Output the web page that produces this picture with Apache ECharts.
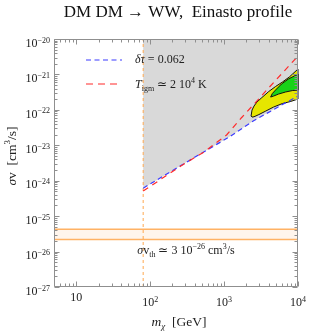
<!DOCTYPE html>
<html><head><meta charset="utf-8">
<script src="https://cdn.jsdelivr.net/npm/echarts@6/dist/echarts.min.js"></script>
<style>html,body{margin:0;padding:0;background:#fff}#c{width:309px;height:332px}</style>
</head><body><div id="c"></div>
<script>
// ---- data ----
const xRange = [5, 10000];                 // GeV
const yRange = [1e-27, 1e-20];             // cm^3/s
const xTickValues = [10, 100, 1000, 10000];
const xTickExps = ['', '2', '3', '4'];
const yTickValues = [1e-27, 1e-26, 1e-25, 1e-24, 1e-23, 1e-22, 1e-21, 1e-20];
const yTickExps = ['\u221227', '\u221226', '\u221225', '\u221224', '\u221223', '\u221222', '\u221221', '\u221220'];

const mW = 80.4;
const bandLow = 2.2e-26, bandHigh = 4.3e-26;

// delta tau = 0.062 (blue)
const blueMass  = [80.4, 212, 473, 1183, 2541, 6152, 10000];
const blueSigma = [6.17e-25, 2.07e-24, 5.64e-24, 1.73e-23, 5.0e-23, 1.41e-22, 2.45e-22];
// T_igm ~ 2e4 K (red)
const redMass  = [80.4, 257, 535, 1080, 1706, 2958, 4009, 6152, 10000];
const redSigma = [5.1e-25, 2.57e-24, 6.46e-24, 1.95e-23, 5.9e-23, 2.04e-22, 4.17e-22, 1.1e-21, 3.3e-21];

// yellow (outer) region contour
const yellowMass  = [2317, 2388, 2541, 2780, 3243, 4018, 4966, 6152, 7621, 10000, 10000, 7852, 6152, 4677, 3664, 2958, 2541, 2388];
const yellowSigma = [6.68e-23, 9.86e-23, 1.28e-22, 1.66e-22, 2.22e-22, 3.29e-22, 4.55e-22, 6.1e-22, 8.45e-22, 1.42e-21, 2.02e-22, 1.71e-22, 1.51e-22, 1.2e-22, 9.25e-23, 7.36e-23, 6.38e-23, 6.26e-23];
// green (inner) region contour
const greenMass  = [4266, 4500, 4966, 5970, 7396, 9162, 10000, 10000, 8356, 6745, 5445, 4677];
const greenSigma = [2.3e-22, 2.9e-22, 3.62e-22, 5.36e-22, 7.41e-22, 9.3e-22, 1.03e-21, 3.62e-22, 3.5e-22, 3.18e-22, 2.79e-22, 2.45e-22];

// ---- chart ----
// the y axis is plotted in units of 1e-26 cm^3/s (ECharts' log scale cannot handle 1e-27 directly)
const Y_UNIT = 1e-26;
const Y_EXP = -26;
const yU = v => v / Y_UNIT;

const SERIF = 'Liberation Serif';
const TXT = '#222';
const chart = echarts.init(document.getElementById('c'), null, {renderer: 'canvas'});

const rich = {
  b: {fontFamily: SERIF, fontSize: 12, color: TXT, lineHeight: 14, verticalAlign: 'middle'},
  c: {fontFamily: SERIF, fontSize: 12, color: TXT, lineHeight: 4, verticalAlign: 'middle'},
  s: {fontFamily: SERIF, fontSize: 8, color: TXT, lineHeight: 8, verticalAlign: 'top'}
};

function zip(a, b) { return a.map((v, i) => [v, yU(b[i])]); }

function polySeries(xs, ys, style, z) {
  return {
    type: 'custom', coordinateSystem: 'cartesian2d', z: z, silent: true,
    data: [[xs[0], yU(ys[0])]],
    renderItem: function (p, api) {
      return {type: 'polygon', shape: {points: xs.map((x, i) => api.coord([x, yU(ys[i])]))}, style: style};
    }
  };
}

const grayMass = [mW, xRange[1]].concat(blueMass.slice().reverse());
const graySigma = [yRange[1], yRange[1]].concat(blueSigma.slice().reverse());

function logTicks(lo, hi) {
  const out = [];
  for (let e = Math.floor(Math.log10(lo) + 1e-9); e <= Math.ceil(Math.log10(hi) - 1e-9); e++) {
    for (let m = 1; m <= 9; m++) {
      const v = m * Math.pow(10, e);
      if (v >= lo * 0.9999 && v <= hi * 1.0001) out.push([v, m === 1]);
    }
  }
  return out;
}
const xTicks = logTicks(xRange[0], xRange[1]);
const yTicks = logTicks(yU(yRange[0]), yU(yRange[1]));

const frameSeries = {
  type: 'custom', coordinateSystem: 'cartesian2d', z: 20, silent: true,
  data: [[xRange[0], yU(yRange[0])]],
  renderItem: function (p, api) {
    const tl = api.coord([xRange[0], yU(yRange[1])]);
    const br = api.coord([xRange[1], yU(yRange[0])]);
    const col = '#8f8f8f';
    const L0 = Math.round(tl[0]) + 0.5, R0 = Math.round(br[0]) - 0.5;
    const T0 = Math.round(tl[1]) + 0.5, B0 = Math.round(br[1]) - 0.5;
    const children = [{
      type: 'rect', shape: {x: L0, y: T0, width: R0 - L0, height: B0 - T0},
      style: {fill: null, stroke: col, lineWidth: 1}
    }];
    xTicks.forEach(([v, major]) => {
      const x = Math.round(api.coord([v, yU(yRange[0])])[0]) + 0.5;
      const L = major ? 5 : 3;
      children.push({type: 'line', shape: {x1: x, y1: B0, x2: x, y2: B0 - L}, style: {stroke: col, lineWidth: 1}});
      children.push({type: 'line', shape: {x1: x, y1: T0, x2: x, y2: T0 + L}, style: {stroke: col, lineWidth: 1}});
    });
    yTicks.forEach(([v, major]) => {
      const y = Math.round(api.coord([xRange[0], v])[1]) + 0.5;
      const L = major ? 5 : 3;
      children.push({type: 'line', shape: {x1: L0, y1: y, x2: L0 + L, y2: y}, style: {stroke: col, lineWidth: 1}});
      children.push({type: 'line', shape: {x1: R0, y1: y, x2: R0 - L, y2: y}, style: {stroke: col, lineWidth: 1}});
    });
    return {type: 'group', children: children};
  }
};

const richText = {
  i: {fontFamily: SERIF, fontStyle: 'italic', fontSize: 12, fill: TXT, lineHeight: 16, verticalAlign: 'middle'},
  n: {fontFamily: SERIF, fontSize: 12, fill: TXT, lineHeight: 16, verticalAlign: 'middle'},
  sub: {fontFamily: SERIF, fontSize: 8, fill: TXT, lineHeight: 8, verticalAlign: 'bottom'},
  subi: {fontFamily: SERIF, fontStyle: 'italic', fontSize: 8, fill: TXT, lineHeight: 8, verticalAlign: 'bottom'},
  sup: {fontFamily: SERIF, fontSize: 8, fill: TXT, lineHeight: 8, verticalAlign: 'top'}
};
const richName = {
  i: {fontFamily: SERIF, fontStyle: 'italic', fontSize: 13.5, fill: TXT, lineHeight: 18, verticalAlign: 'middle'},
  n: {fontFamily: SERIF, fontSize: 13.5, fill: TXT, lineHeight: 18, verticalAlign: 'middle'},
  subi: {fontFamily: SERIF, fontStyle: 'italic', fontSize: 9, fill: TXT, lineHeight: 9, verticalAlign: 'bottom'},
  sup: {fontFamily: SERIF, fontSize: 9, fill: TXT, lineHeight: 9, verticalAlign: 'top'}
};

const option = {
  animation: false,
  backgroundColor: '#fff',
  grid: {left: 54, top: 39, right: 6, bottom: 45},
  xAxis: {
    type: 'log', logBase: 10, min: xRange[0], max: xRange[1],
    axisLine: {show: false}, axisTick: {show: false}, splitLine: {show: false},
    axisLabel: {
      margin: 9, rich: rich, showMinLabel: true, showMaxLabel: true, hideOverlap: false,
      formatter: function (v) {
        const i = xTickValues.findIndex(t => Math.abs(Math.log10(t) - Math.log10(v)) < 1e-6);
        if (i < 0) return '';
        return xTickExps[i] ? '{b|10}{s|' + xTickExps[i] + '}' : '{c|10}';
      }
    }
  },
  yAxis: {
    type: 'log', logBase: 10, min: yU(yRange[0]), max: yU(yRange[1]),
    axisLine: {show: false}, axisTick: {show: false}, splitLine: {show: false},
    axisLabel: {
      margin: 4, rich: rich, padding: [9, 0, 0, 0], showMinLabel: true, showMaxLabel: true, hideOverlap: false,
      formatter: function (v) {
        const e = Math.round(Math.log10(v)) + Y_EXP;
        const i = yTickValues.findIndex(t => Math.round(Math.log10(t)) === e);
        if (i < 0) return '';
        return '{b|10}{s|' + yTickExps[i] + '}';
      }
    }
  },
  series: [
    polySeries(grayMass, graySigma, {fill: '#d9d9d9'}, 1),
    polySeries([xRange[0], xRange[1], xRange[1], xRange[0]], [bandLow, bandLow, bandHigh, bandHigh], {fill: '#fff5ec'}, 1),
    {type: 'line', z: 3, silent: true, showSymbol: false, data: zip([xRange[0], xRange[1]], [bandHigh, bandHigh]),
      lineStyle: {color: '#ffb264', width: 1.5}},
    {type: 'line', z: 3, silent: true, showSymbol: false, data: zip([xRange[0], xRange[1]], [bandLow, bandLow]),
      lineStyle: {color: '#ffb264', width: 1.5}},
    {type: 'line', z: 3, silent: true, showSymbol: false, data: zip([mW, mW], [yRange[0], yRange[1]]),
      lineStyle: {color: '#ffa850', width: 1, type: [3, 3]}},
    polySeries(yellowMass, yellowSigma, {fill: '#e6e600', stroke: '#111', lineWidth: 1}, 4),
    polySeries(greenMass, greenSigma, {fill: '#19d219', stroke: '#111', lineWidth: 1}, 5),
    {type: 'line', z: 6, silent: true, showSymbol: false, data: zip(blueMass, blueSigma),
      lineStyle: {color: '#3a3aff', width: 1.2, type: [5, 3.5]}},
    {type: 'line', z: 6, silent: true, showSymbol: false, data: zip(redMass, redSigma),
      lineStyle: {color: '#ff2a2a', width: 1.2, type: [6, 5]}},
    frameSeries
  ],
  graphic: [
    {type: 'text', x: 178, y: 13, z: 30, style: {text: 'DM DM \u2192 WW,  Einasto profile', font: '17px "Liberation Serif"', fill: '#111', align: 'center', verticalAlign: 'middle'}},
    {type: 'line', shape: {x1: 86, y1: 60, x2: 122, y2: 60}, style: {stroke: '#3a3aff', lineWidth: 1.2, lineDash: [5, 3.5]}, z: 30},
    {type: 'line', shape: {x1: 86, y1: 84, x2: 122, y2: 84}, style: {stroke: '#ff2a2a', lineWidth: 1.2, lineDash: [7, 5]}, z: 30},
    {type: 'text', x: 135, y: 60, z: 30, style: {text: '{i|\u03b4\u03c4}{n| = 0.062}', verticalAlign: 'middle', rich: richText}},
    {type: 'text', x: 135, y: 85, z: 30, style: {text: '{i|T}{sub|igm}{n| \u2243 2 10}{sup|4}{n| K}', verticalAlign: 'middle', rich: richText}},
    {type: 'text', x: 186, y: 251, z: 30, style: {
      text: '{i|\u03c3}{n|v}{sub|th}{n| \u2243 3 10}{sup|\u221226}{n| cm}{sup|3}{n|/s}', align: 'center', verticalAlign: 'middle', rich: richText}},
    {type: 'text', x: 179, y: 322, z: 30, style: {
      text: '{i|m}{subi|\u03c7}{n|  [GeV]}', align: 'center', verticalAlign: 'middle', rich: richName}},
    {type: 'text', x: 12, y: 156, rotation: Math.PI / 2, z: 30, style: {
      text: '{i|\u03c3}{n|v  [cm}{sup|3}{n|/s]}', align: 'center', verticalAlign: 'middle', rich: richName}}
  ]
};
chart.setOption(option);
</script>
</body></html>
